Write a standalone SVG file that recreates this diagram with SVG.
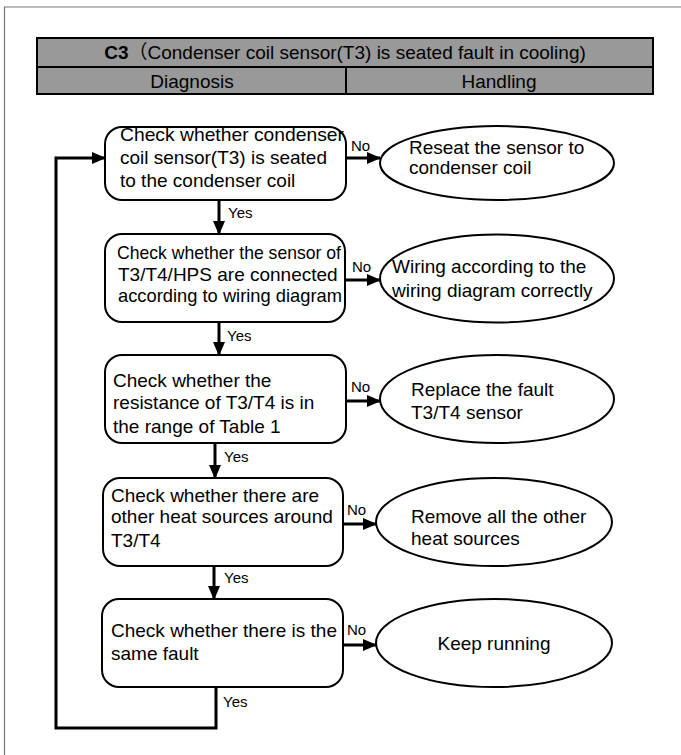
<svg xmlns="http://www.w3.org/2000/svg" width="681" height="755" viewBox="0 0 681 755">
<defs>
<style>
text{font-family:"Liberation Sans",Arial,"Noto Sans CJK SC",sans-serif;fill:#000}
.t{font-size:19px}
.l{font-size:15px}
.box{fill:#fff;stroke:#000;stroke-width:2}
.hd{fill:#999;stroke:#000;stroke-width:2}
.ln{fill:none;stroke:#000;stroke-width:3}
</style>
<marker id="ah" markerUnits="userSpaceOnUse" markerWidth="14" markerHeight="12" refX="13" refY="6" orient="auto">
<path d="M0,0 L14,6 L0,12 Z" fill="#000"/>
</marker>
</defs>
<rect width="681" height="755" fill="#fff"/>
<path d="M4.5,755 V7 H681" fill="none" stroke="#777" stroke-width="1.2"/>
<g id="header">
<rect class="hd" x="37" y="38" width="616" height="29"/>
<rect class="hd" x="37" y="67" width="616" height="27"/>
<line x1="346" y1="67" x2="346" y2="94" stroke="#000" stroke-width="2"/>
<text class="t" x="345" y="59" text-anchor="middle" font-size="18.5"><tspan font-weight="bold">C3</tspan>（Condenser coil sensor(T3) is seated fault in cooling)</text>
<text class="t" x="192" y="88" text-anchor="middle">Diagnosis</text>
<text class="t" x="499" y="88" text-anchor="middle">Handling</text>
</g>
<g id="connectors">
<line class="ln" x1="346" y1="158" x2="380" y2="158" marker-end="url(#ah)"/>
<line class="ln" x1="346" y1="280" x2="380" y2="280" marker-end="url(#ah)"/>
<line class="ln" x1="346" y1="401" x2="380" y2="401" marker-end="url(#ah)"/>
<line class="ln" x1="343" y1="524" x2="376" y2="524" marker-end="url(#ah)"/>
<line class="ln" x1="343" y1="645" x2="376" y2="645" marker-end="url(#ah)"/>
<line class="ln" x1="219" y1="200" x2="219" y2="234" marker-end="url(#ah)"/>
<line class="ln" x1="219" y1="322" x2="219" y2="355" marker-end="url(#ah)"/>
<line class="ln" x1="215" y1="443" x2="215" y2="478" marker-end="url(#ah)"/>
<line class="ln" x1="214" y1="566" x2="214" y2="599" marker-end="url(#ah)"/>
<path class="ln" d="M216,687 V728 H56 V158 H105" marker-end="url(#ah)"/>
<text class="l" x="351" y="151">No</text>
<text class="l" x="352" y="272">No</text>
<text class="l" x="351" y="392">No</text>
<text class="l" x="347" y="515">No</text>
<text class="l" x="347" y="635">No</text>
<text class="l" x="228" y="218">Yes</text>
<text class="l" x="227" y="341">Yes</text>
<text class="l" x="224" y="462">Yes</text>
<text class="l" x="224" y="583">Yes</text>
<text class="l" x="223" y="707">Yes</text>
</g>
<g id="check1">
<rect class="box" x="105" y="127" width="241" height="73" rx="17"/>
<text class="t" x="120" y="141" textLength="224" lengthAdjust="spacingAndGlyphs">Check whether condenser</text>
<text class="t" x="120" y="164">coil sensor(T3) is seated</text>
<text class="t" x="120" y="187">to the condenser coil</text>
</g>
<g id="reseat">
<ellipse class="box" cx="497" cy="163" rx="117" ry="37"/>
<text class="t" x="409" y="154">Reseat the sensor to</text>
<text class="t" x="409" y="174">condenser coil</text>
</g>
<g id="check2">
<rect class="box" x="105" y="234" width="240" height="88" rx="17"/>
<text class="t" x="117" y="259" textLength="224" lengthAdjust="spacingAndGlyphs">Check whether the sensor of</text>
<text class="t" x="118" y="281">T3/T4/HPS are connected</text>
<text class="t" x="118" y="302" textLength="224" lengthAdjust="spacingAndGlyphs">according to wiring diagram</text>
</g>
<g id="wiring">
<ellipse class="box" cx="497" cy="278.5" rx="117" ry="44"/>
<text class="t" x="392" y="273">Wiring according to the</text>
<text class="t" x="392" y="297">wiring diagram correctly</text>
</g>
<g id="check3">
<rect class="box" x="105" y="355" width="241" height="88" rx="17"/>
<text class="t" x="113" y="387">Check whether the</text>
<text class="t" x="113" y="409">resistance of T3/T4 is in</text>
<text class="t" x="113" y="433">the range of Table 1</text>
</g>
<g id="replace">
<ellipse class="box" cx="497" cy="399" rx="117" ry="44"/>
<text class="t" x="411" y="396">Replace the fault</text>
<text class="t" x="411" y="419">T3/T4 sensor</text>
</g>
<g id="check4">
<rect class="box" x="103" y="478" width="240" height="88" rx="17"/>
<text class="t" x="111" y="502">Check whether there are</text>
<text class="t" x="111" y="523">other heat sources around</text>
<text class="t" x="111" y="547">T3/T4</text>
</g>
<g id="remove">
<ellipse class="box" cx="494" cy="522" rx="118" ry="44"/>
<text class="t" x="411" y="523">Remove all the other</text>
<text class="t" x="411" y="545">heat sources</text>
</g>
<g id="check5">
<rect class="box" x="102" y="599" width="241" height="88" rx="17"/>
<text class="t" x="111" y="637">Check whether there is the</text>
<text class="t" x="111" y="660">same fault</text>
</g>
<g id="keep">
<ellipse class="box" cx="494" cy="643" rx="118" ry="44"/>
<text class="t" x="494" y="650" text-anchor="middle">Keep running</text>
</g>
</svg>
